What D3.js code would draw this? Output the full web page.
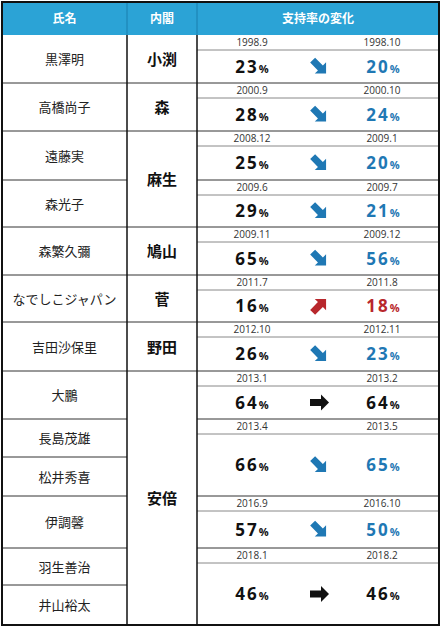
<!DOCTYPE html><html><head><meta charset="utf-8">
<script src="https://cdn.jsdelivr.net/npm/d3@7"></script>
<style>body{margin:0;background:#fff}</style></head><body>
<script>
const headers=["氏名","内閣","支持率の変化"];
const names=["黒澤明","高橋尚子","遠藤実","森光子","森繁久彌","なでしこジャパン","吉田沙保里","大鵬","長島茂雄","松井秀喜","伊調馨","羽生善治","井山裕太"];
const cabinets=["小渕","森","麻生","鳩山","菅","野田","安倍"];
const cabinetSpan=[1,1,2,1,1,1,6];
const fromDates=["1998.9","2000.9","2008.12","2009.6","2009.11","2011.7","2012.10","2013.1","2013.4","2016.9","2018.1"];
const toDates=["1998.10","2000.10","2009.1","2009.7","2009.12","2011.8","2012.11","2013.2","2013.5","2016.10","2018.2"];
const fromVals=[23,28,25,29,65,16,26,64,66,57,46];
const toVals=[20,24,20,21,56,18,23,64,65,50,46];
const groupSpan=[1,1,1,1,1,1,1,1,2,1,2];
// layout: row boundaries in pixels
const rowEdges=[35,83,131,180,227,275,322,371,419,457,496,548,585,625];
const W=441,H=640,L=2,R=439,c1=127,c2=197;
const svg=d3.select("body").append("svg").attr("width",W).attr("height",H);
const y=d3.scaleLinear().domain(d3.range(rowEdges.length)).range(rowEdges);
const x=d3.scaleLinear().domain([0,1,2,3]).range([L,c1,c2,R]);
const xc=d3.scalePoint().domain(["from","arrow","to"]).range([252,383]).padding(0);
const font="'Noto Sans CJK JP',sans-serif";
svg.append("rect").attr("x",L).attr("y",2).attr("width",R-L).attr("height",33).attr("fill","#2ba3d6");
headers.forEach((h,i)=>svg.append("text").attr("x",(x(i)+x(i+1))/2).attr("y",23).attr("text-anchor","middle")
 .attr("fill","#fff").attr("font-family",font).attr("font-weight","bold").attr("font-size",12).text(h));
[c1,c2].forEach(v=>svg.append("line").attr("x1",v).attr("x2",v).attr("y1",2).attr("y2",35).attr("stroke","#1b7fae"));
// names
names.forEach((n,i)=>{
 svg.append("text").attr("x",(L+c1)/2).attr("y",(y(i)+y(i+1))/2+5).attr("text-anchor","middle")
  .attr("font-family",font).attr("font-size",13).attr("fill","#222").text(n);
 if(i>0) svg.append("line").attr("x1",L).attr("x2",c1).attr("y1",y(i)).attr("y2",y(i)).attr("stroke","#333");
});
// cabinets
let r=0;
cabinets.forEach((c,i)=>{
 const a=r,b=r+cabinetSpan[i];
 svg.append("text").attr("x",(c1+c2)/2).attr("y",(y(a)+y(b))/2+6).attr("text-anchor","middle")
  .attr("font-family",font).attr("font-weight","bold").attr("font-size",15).attr("fill","#111").text(c);
 if(i>0) svg.append("line").attr("x1",c1).attr("x2",c2).attr("y1",y(a)).attr("y2",y(a)).attr("stroke","#333");
 r=b;
});
// groups
const blue="#1f78b4",red="#b8272c";
function arrow(g,cx,cy,dir,col){
 const ang=dir<0?45:dir>0?-45:0;
 g.append("path").attr("d","M-9,-3.5L2,-3.5L2,-8L10,0L2,8L2,3.5L-9,3.5Z").attr("fill",col)
  .attr("transform",`translate(${cx},${cy}) rotate(${ang})`);
}
r=0;
fromDates.forEach((d,i)=>{
 const a=y(r),b=y(r+groupSpan[i]);r+=groupSpan[i];
 if(i>0) svg.append("line").attr("x1",c2).attr("x2",R).attr("y1",a).attr("y2",a).attr("stroke","#333");
 svg.append("line").attr("x1",c2).attr("x2",R).attr("y1",a+15).attr("y2",a+15).attr("stroke","#888");
 [["from",d],["to",toDates[i]]].forEach(([k,t])=>svg.append("text").attr("x",k=="from"?252:382).attr("y",a+11)
  .attr("text-anchor","middle").attr("font-family","'Open Sans',sans-serif").attr("font-size",10).attr("fill","#333").text(t));
 const cy=(a+15+b)/2;
 const dir=Math.sign(toVals[i]-fromVals[i]);
 const col=dir<0?blue:dir>0?red:"#111";
 const pct=(xx,v,c)=>{const t=svg.append("text").attr("x",xx).attr("y",cy+6).attr("text-anchor","middle")
   .attr("font-family","'Open Sans',sans-serif").attr("font-weight","bold").attr("fill",c);
  t.append("tspan").attr("font-size",17).attr("letter-spacing",2).text(v);
  t.append("tspan").attr("font-size",11).text("%");};
 pct(252,fromVals[i],"#111");pct(383,toVals[i],col);
 arrow(svg,319,cy,dir,col);
});
svg.append("rect").attr("x",L).attr("y",2).attr("width",R-L).attr("height",623).attr("fill","none").attr("stroke","#111").attr("stroke-width",2);
[c1,c2].forEach(v=>svg.append("line").attr("x1",v).attr("x2",v).attr("y1",35).attr("y2",625).attr("stroke","#111").attr("stroke-width",1.5));
</script></body></html>
